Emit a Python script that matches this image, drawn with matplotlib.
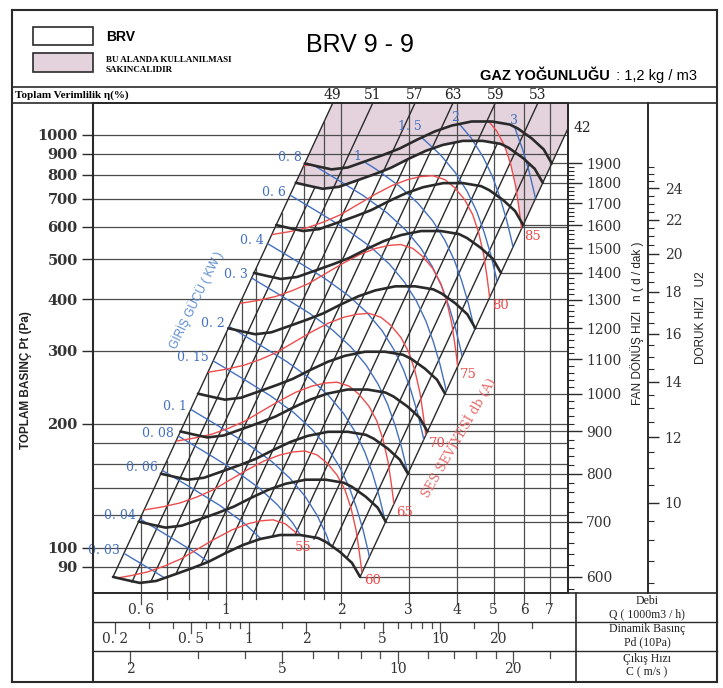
import numpy as np
import matplotlib.pyplot as plt
import matplotlib.transforms as mtransforms
from matplotlib.path import Path
from matplotlib.lines import Line2D
from matplotlib.patches import Rectangle, Polygon
from matplotlib.ticker import FixedLocator, NullLocator, FixedFormatter, NullFormatter

# ---------------- data ----------------
# fan curve at 600 rpm: Q (1000 m3/h), Pt (Pa)
fan_q = [0.507, 0.548, 0.596, 0.657, 0.740, 0.820, 0.898, 1.000, 1.108, 1.227,
         1.384, 1.561, 1.739, 1.825, 1.985, 2.133, 2.239]
fan_pt = [85.1, 83.7, 82.3, 83.2, 86.5, 89.5, 92.5, 97.3, 101.7, 105.1,
          107.5, 107.5, 105.7, 103.4, 97.8, 92.0, 85.1]
BASE_RPM = 600
rpm_levels = [600, 700, 800, 900, 1000, 1200, 1400, 1600, 1800, 1900]

# input power line read at 0.3 kW
power_q = [1.166, 1.396, 1.647, 1.897, 2.120, 2.321, 2.494, 2.640, 2.762, 2.872, 2.969, 3.050]
power_pt = [450.6, 407.6, 370.7, 337.1, 306.6, 277.4, 249.5, 223.2, 198.6, 175.6, 154.5, 135.1]
BASE_KW = 0.3
power_kw = [0.03, 0.04, 0.06, 0.08, 0.1, 0.15, 0.2, 0.3, 0.4, 0.6, 0.8, 1, 1.5, 2, 3]
power_text = ['0. 03', '0. 04', '0. 06', '0. 08', '0. 1', '0. 15', '0. 2', '0. 3',
              '0. 4', '0. 6', '0. 8', '1', '1. 5', '2', '3']

# sound level line read at 60 dB(A)
sound_q = [0.611, 0.681, 0.758, 0.840, 0.925, 1.024, 1.135, 1.257, 1.384, 1.496,
           1.608, 1.729, 1.835, 1.949, 2.045, 2.120, 2.185, 2.225, 2.266, 2.293]
sound_pt = [123.6, 125.7, 128.5, 132.9, 138.2, 146.1, 154.5, 162.4, 168.0, 170.8,
            171.7, 168.0, 160.6, 150.2, 138.2, 125.0, 110.6, 98.9, 87.0, 79.1]
BASE_DB = 60
DB_PER_DECADE = 60
sound_db = [55, 60, 65, 70, 75, 80, 85]

# efficiency lines, where they start on the 600 rpm curve
eff_q = [0.507, 0.637, 0.860, 1.148, 1.514, 1.897, 2.239]
eff_pt = [85.1, 83.0, 91.0, 102.8, 107.5, 101.1, 85.1]
eff_pct = [49, 51, 57, 63, 59, 53, 42]
mid_q = [0.568, 0.740, 0.994, 1.319, 1.697, 2.070]
mid_pt = [82.7, 86.5, 97.0, 106.3, 105.1, 94.6]

grid_q = [0.6, 0.7, 0.8, 0.9, 1, 1.1, 1.2, 1.4, 1.6, 1.8, 2, 3, 4, 5, 6, 7]
grid_pt = [90, 100, 120, 140, 160, 180, 200, 300, 400, 500, 600, 700, 800, 900, 1000]
pt_ticks = [90, 100, 200, 300, 400, 500, 600, 700, 800, 900, 1000]
q_ticks = [0.6, 1, 2, 3, 4, 5, 6, 7]
q_text = ['0. 6', '1', '2', '3', '4', '5', '6', '7']
pd_ticks = [0.2, 0.5, 1, 2, 5, 10, 20]
pd_text = ['0. 2', '0. 5', '1', '2', '5', '10', '20']
pd_minor = [0.3, 0.4, 0.6, 0.7, 0.8, 0.9, 1.5, 3, 4, 6, 7, 8, 9, 15, 30]
c_ticks = [2, 5, 10, 20]
c_minor = [3, 4, 6, 7, 8, 9, 12, 14, 16, 18, 25]
rpm_ticks = list(range(600, 2000, 100))
u2_ticks = [10, 12, 14, 16, 18, 20, 22, 24]

RHO = 1.2        # kg/m3
C_PER_Q = 3.56   # outlet velocity m/s per 1000 m3/h
TIP_D = 0.2587   # m, impeller diameter for tip speed

# text anchors for power labels that sit on the top curve
upper_kw_q = [2.21, 3.02, 3.96, 5.65]
upper_kw_pt = [885, 1050, 1105, 1085]
db55_q, db55_pt = 1.59, 100.5

# ---------------- helpers ----------------
QMIN, QMAX = 0.4495, 7.816
PMIN, PMAX = 77.8, 1195

W, H = 723, 688
BLUE = '#4470c0'
RED = '#ee4c4c'
INK = '#2a2a2a'
GRID = '#4d4d4d'
PINK = '#e4d3dd'


def scaled(q, p, r):
    return np.asarray(q) * r, np.asarray(p) * r ** 2


def rpm_of_pt(p):
    return BASE_RPM * np.sqrt(p / fan_pt[-1])


def u2_of_rpm(n):
    return np.pi * TIP_D * n / 60


def pd_of_q(q):
    return 0.5 * RHO * (C_PER_Q * q) ** 2 / 10


def fx(x):
    return x / W


def fy(y):
    return 1 - y / H


fig = plt.figure(figsize=(W / 100, H / 100), dpi=100)


def fig_line(x0, y0, x1, y1, lw=1.2, color=INK):
    fig.add_artist(Line2D([fx(x0), fx(x1)], [fy(y0), fy(y1)], lw=lw, color=color,
                          transform=fig.transFigure))


# frame of the sheet
fig_line(12, 10, 717, 10, 1.5)
fig_line(12, 682, 717, 682, 1.5)
fig_line(12, 10, 12, 682, 1.5)
fig_line(717, 10, 717, 682, 1.5)
fig_line(12, 87, 717, 87, 1.2)
fig_line(12, 103, 717, 103, 1.2)
fig_line(93, 103, 93, 682, 1.5)
fig_line(93, 593, 717, 593, 1.2)
fig_line(93, 622, 717, 622, 1.0)
fig_line(93, 651, 717, 651, 1.0)
fig_line(576, 593, 576, 682, 1.2)

# header
fig.add_artist(Rectangle((fx(33), fy(45)), 60 / W, 18 / H, transform=fig.transFigure,
                         facecolor='white', edgecolor=INK, lw=1.2))
fig.add_artist(Rectangle((fx(33), fy(72)), 60 / W, 19 / H, transform=fig.transFigure,
                         facecolor=PINK, edgecolor=INK, lw=1.2))
fig.text(fx(106), fy(37), 'BRV', fontsize=10, fontweight='bold', family='Liberation Sans',
         va='center')
fig.text(fx(106), fy(60), 'BU ALANDA KULLANILMASI', fontsize=6.5, fontweight='bold',
         family='Liberation Serif', va='center')
fig.text(fx(106), fy(70), 'SAKINCALIDIR', fontsize=6.5, fontweight='bold',
         family='Liberation Serif', va='center')
fig.text(fx(360), fy(45), 'BRV 9 - 9', fontsize=18, family='Liberation Sans',
         ha='center', va='center')
fig.text(fx(480), fy(76), 'GAZ YOĞUNLUĞU', fontsize=10.5, fontweight='bold',
         family='Liberation Sans', va='center')
fig.text(fx(612), fy(76), ' : 1,2 kg / m3', fontsize=10.5, family='Liberation Sans',
         va='center')
fig.text(fx(15), fy(95), 'Toplam Verimlilik η(%)', fontsize=8, fontweight='bold',
         family=['Liberation Serif', 'DejaVu Serif'], va='center')

# ---------------- main chart ----------------
ax = fig.add_axes([fx(93), fy(593), (568 - 93) / W, (593 - 103) / H])
ax.set_xscale('log')
ax.set_yscale('log')
ax.set_xlim(QMIN, QMAX)
ax.set_ylim(PMIN, PMAX)
ax.xaxis.set_major_locator(NullLocator())
ax.xaxis.set_minor_locator(NullLocator())
ax.yaxis.set_major_locator(FixedLocator(pt_ticks))
ax.yaxis.set_major_formatter(FixedFormatter([str(v) for v in pt_ticks]))
ax.yaxis.set_minor_locator(NullLocator())
ax.tick_params(axis='y', length=8, width=1, color=INK, pad=3, labelsize=10.5,
               labelcolor='#333')
for lbl in ax.get_yticklabels():
    lbl.set_family('DejaVu Serif')
    lbl.set_fontweight('bold')
for s in ax.spines.values():
    s.set_linewidth(1.4)
    s.set_color(INK)

# grid
k_left = fan_pt[0] / fan_q[0] ** 2
for p in grid_pt:
    ax.axhline(p, color=GRID, lw=0.9, zorder=1)
for q in grid_q:
    ax.plot([q, q], [PMIN * 0.9, min(PMAX * 1.2, k_left * q ** 2)], color=GRID, lw=0.9,
            zorder=1)

# clip regions
c_lo = scaled(fan_q, fan_pt, 1.0)
c_hi = scaled(fan_q, fan_pt, rpm_levels[-1] / BASE_RPM)
region = Path(np.vstack([np.column_stack(c_lo), np.column_stack(c_hi)[::-1],
                         [[c_lo[0][0], c_lo[1][0]]]]))
k_right = fan_pt[-1] / fan_q[-1] ** 2
band_top = 1e4
band = Path([(fan_q[0], fan_pt[0]), (fan_q[-1], fan_pt[-1]),
             (np.sqrt(band_top / k_right), band_top), (np.sqrt(band_top / k_left), band_top),
             (fan_q[0], fan_pt[0])])

# not-recommended area: above 1800 rpm or louder than 85 dB(A)
q18, p18 = scaled(fan_q, fan_pt, 1800 / BASE_RPM)
pink1 = Polygon(np.vstack([np.column_stack([q18, p18]), [[50, band_top], [0.1, band_top]]]),
                facecolor=PINK, edgecolor='none', zorder=0.5)
ax.add_patch(pink1)
pink1.set_clip_path(band, ax.transData)
r85 = 10 ** ((sound_db[-1] - BASE_DB) / DB_PER_DECADE)
q85, p85 = scaled(sound_q, sound_pt, r85)
pink2 = Polygon(np.vstack([np.column_stack([q85, p85]),
                           [[50, p85[-1]], [50, band_top], [0.1, band_top]]]),
                facecolor=PINK, edgecolor='none', zorder=0.5)
ax.add_patch(pink2)
pink2.set_clip_path(band, ax.transData)

# efficiency lines
for q0, p0 in zip(eff_q, eff_pt):
    ax.plot([q0, q0 * 8], [p0, p0 * 64], color=INK, lw=1.0, zorder=1.5)
for q0, p0 in zip(mid_q, mid_pt):
    ax.plot([q0, q0 * 3], [p0, p0 * 9], color=INK, lw=1.0, zorder=1.5)

blend = mtransforms.blended_transform_factory(ax.transData, ax.transAxes)
for q0, p0, e in zip(eff_q[:-1], eff_pt[:-1], eff_pct[:-1]):
    ax.text(q0 * np.sqrt(PMAX / p0), 1.016, str(e), transform=blend, ha='center',
            va='center', fontsize=10, family='DejaVu Serif', color='#222', clip_on=False)
ax.annotate(str(eff_pct[-1]), (QMAX, eff_pt[-1] * (QMAX / eff_q[-1]) ** 2),
            xytext=(6, 0), textcoords='offset pixels', ha='left', va='center',
            fontsize=10, family='DejaVu Serif', color='#222', annotation_clip=False)

# power lines
for w, t in zip(power_kw, power_text):
    r = (w / BASE_KW) ** (1 / 3)
    q, p = scaled(power_q, power_pt, r)
    ln, = ax.plot(q, p, color=BLUE, lw=1.0, zorder=2.5)
    ln.set_clip_path(region, ax.transData)
    if w <= 0.8:
        ax.annotate(t, (q[0], p[0]), xytext=(-4, 3), textcoords='offset pixels',
                    ha='right', va='center', fontsize=9, family='DejaVu Serif',
                    color=BLUE, annotation_clip=False)
for t, q, p in zip(power_text[-4:], upper_kw_q, upper_kw_pt):
    ax.text(q, p, t, ha='center', va='center', fontsize=9, family='DejaVu Serif',
            color=BLUE)

# sound lines
for db in sound_db:
    r = 10 ** ((db - BASE_DB) / DB_PER_DECADE)
    q, p = scaled(sound_q, sound_pt, r)
    ln, = ax.plot(q, p, color=RED, lw=1.0, zorder=2.6)
    ln.set_clip_path(region, ax.transData)
    if db > sound_db[0]:
        ax.annotate(str(db), (q[-2], p[-2]), xytext=(11, -8), textcoords='offset pixels',
                    ha='center', va='center', fontsize=9.5, family='DejaVu Serif',
                    color=RED, annotation_clip=False)
ax.text(db55_q, db55_pt, str(sound_db[0]), ha='center', va='center', fontsize=9.5,
        family='DejaVu Serif', color=RED)

# fan curves at each speed + speed level lines to the rpm scale
for n in rpm_levels:
    q, p = scaled(fan_q, fan_pt, n / BASE_RPM)
    ax.plot(q, p, color=INK, lw=1.9, zorder=4, solid_capstyle='round')
    ax.plot([q[-1], QMAX * 1.5], [p[-1], p[-1]], color=GRID, lw=0.9, zorder=1)

fig.text(fx(196), fy(300), 'GİRİŞ GÜCÜ ( KW )', rotation=64, color='#5b8bd0',
         fontsize=8.5, family='Liberation Sans', ha='center', va='center')
fig.text(fx(460), fy(438), 'SES SEVİYESİ db (A)', rotation=60, color='#e56a6a',
         fontsize=9, family='DejaVu Serif', ha='center', va='center')
fig.text(fx(26), fy(380), 'TOPLAM BASINÇ Pt (Pa)', rotation=90, color='#222',
         fontsize=8.5, family='Liberation Sans', fontweight='bold',
         ha='center', va='center')

# rpm scale
axr = ax.twinx()
axr.set_yscale('log')
axr.set_ylim(rpm_of_pt(PMIN), rpm_of_pt(PMAX))
axr.yaxis.set_major_locator(FixedLocator(rpm_ticks))
axr.yaxis.set_major_formatter(FixedFormatter([str(v) for v in rpm_ticks]))
axr.yaxis.set_minor_locator(FixedLocator(range(580, 1920, 20)))
axr.yaxis.set_minor_formatter(NullFormatter())
axr.tick_params(which='major', length=10, width=1, color=INK, pad=3, labelsize=10,
                labelcolor='#333')
axr.tick_params(which='minor', length=4, width=0.8, color=INK)
for lbl in axr.get_yticklabels():
    lbl.set_family('DejaVu Serif')
for k in ['left', 'top', 'bottom']:
    axr.spines[k].set_visible(False)
axr.spines['right'].set_linewidth(1.4)
axr.spines['right'].set_color(INK)

# tip speed scale
axu = ax.twinx()
axu.spines['right'].set_position(('axes', (648 - 93) / (568 - 93)))
axu.set_yscale('log')
axu.set_ylim(u2_of_rpm(rpm_of_pt(PMIN)), u2_of_rpm(rpm_of_pt(PMAX)))
axu.yaxis.set_major_locator(FixedLocator(u2_ticks))
axu.yaxis.set_major_formatter(FixedFormatter([str(v) for v in u2_ticks]))
axu.yaxis.set_minor_locator(FixedLocator(np.arange(8, 25.6, 0.5)))
axu.yaxis.set_minor_formatter(NullFormatter())
axu.tick_params(which='major', length=8, width=1, color=INK, pad=4, labelsize=10,
                labelcolor='#333')
axu.tick_params(which='minor', length=4, width=0.8, color=INK)
for lbl in axu.get_yticklabels():
    lbl.set_family('DejaVu Serif')
for k in ['left', 'top', 'bottom']:
    axu.spines[k].set_visible(False)
axu.spines['right'].set_linewidth(1.4)
axu.spines['right'].set_color(INK)

fig.text(fx(637), fy(323), 'FAN DÖNÜŞ HIZI   n ( d / dak )', rotation=90, fontsize=8.5,
         family='Liberation Sans', ha='center', va='center', color='#222')
fig.text(fx(701), fy(318), 'DORUK HIZI   U2', rotation=90, fontsize=8.5,
         family='Liberation Sans', ha='center', va='center', color='#222')


# ---------------- bottom scales ----------------
def scale_row(top, bottom, lo, hi, majors, texts, minors, label_y):
    a = fig.add_axes([fx(93), fy(bottom), (568 - 93) / W, (bottom - top) / H])
    a.set_xscale('log')
    a.set_xlim(lo, hi)
    a.set_ylim(0, 1)
    a.axis('off')
    for v in majors:
        a.plot([v, v], [1, 0.62], color=GRID, lw=0.9)
    for v in minors:
        a.plot([v, v], [1, 0.78], color=GRID, lw=0.9)
    for v, t in zip(majors, texts):
        a.text(v, label_y, t, ha='center', va='center', fontsize=10,
               family='DejaVu Serif', color='#333')
    return a


scale_row(593, 622, QMIN, QMAX, q_ticks, q_text,
          [v for v in grid_q if v not in q_ticks], 0.42)
scale_row(622, 651, pd_of_q(QMIN), pd_of_q(QMAX), pd_ticks, pd_text, pd_minor, 0.4)
scale_row(651, 682, C_PER_Q * QMIN, C_PER_Q * QMAX, c_ticks, [str(v) for v in c_ticks],
          c_minor, 0.42)

for y, t in [(601, 'Debi'), (614, 'Q ( 1000m3 / h)'), (629, 'Dinamik Basınç'),
             (642, 'Pd (10Pa)'), (659, 'Çıkış Hızı'), (672, 'C ( m/s )')]:
    fig.text(fx(647), fy(y), t, fontsize=8.5, family='Liberation Serif', ha='center',
             va='center', color='#222')

fig.savefig('out.png', dpi=100)
